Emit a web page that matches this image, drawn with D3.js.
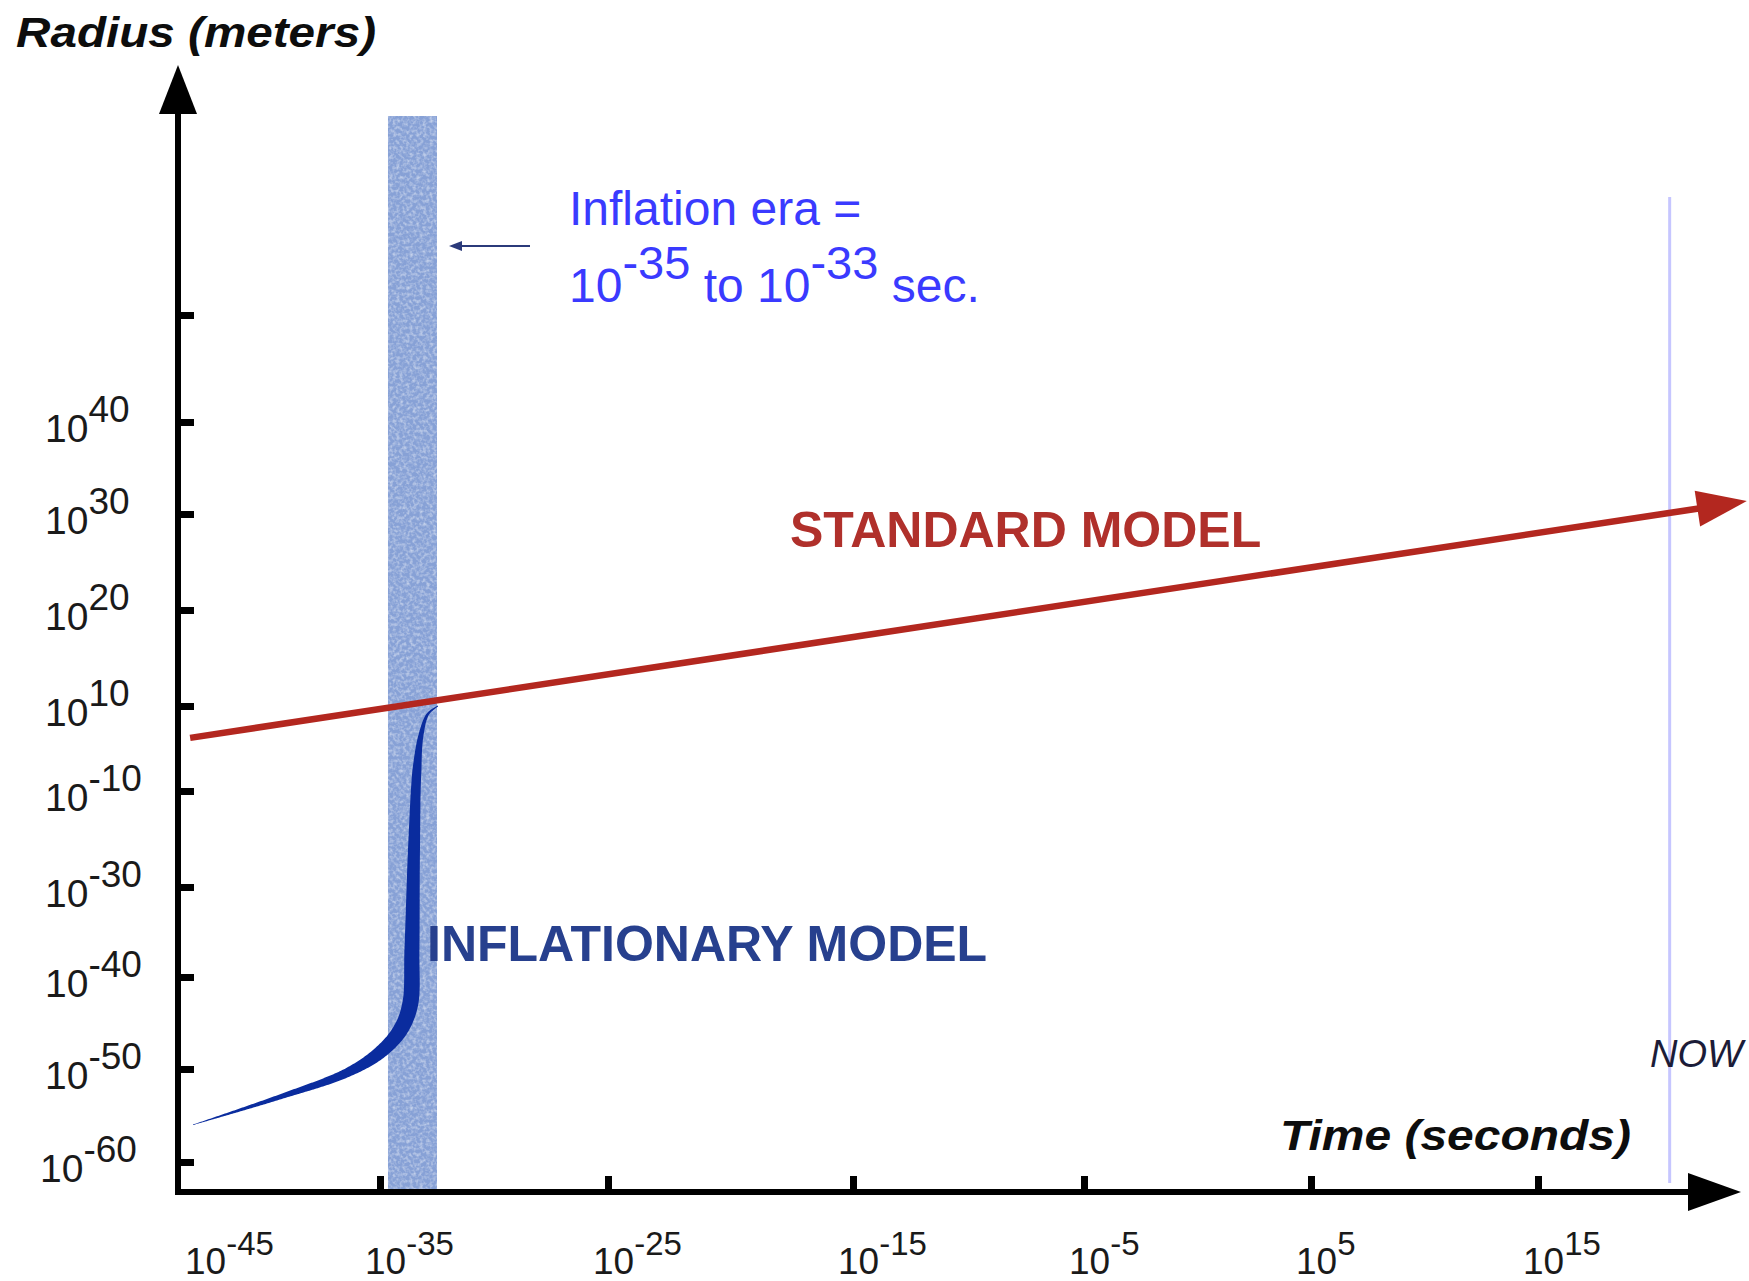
<!DOCTYPE html>
<html>
<head>
<meta charset="utf-8">
<script src="https://cdn.jsdelivr.net/npm/d3@7"></script>
<style>
  html, body { margin: 0; padding: 0; background: #ffffff; }
  svg { display: block; }
  text { font-family: "Liberation Sans", Arial, Helvetica, sans-serif; }
</style>
</head>
<body>
<svg id="chart" width="1749" height="1281"></svg>
<script>
// ---------------- DATA (exponents of ten) ----------------
const xTickExponents = [-45, -35, -25, -15, -5, 5, 15];          // time ticks, 10^n s
const yTickExponents = [-60, -50, -40, -30, -10, 10, 20, 30, 40]; // radius ticks, 10^n m (as labelled)
const yUnlabeledTicks = [50];
const inflationEra = [-34.65, -32.5];   // band, as drawn
const nowExponent = 20.8;               // "NOW" marker, as drawn
// Standard model: straight line (log time, log radius)
const standardT = [-44.4, 24.2];
const standardR = [2.5, 31.4];
// Inflationary model curve
const inflT = [-44.26, -39.95, -36.63, -35.0, -34.12, -33.68, -33.6, -33.51, -33.38, -33.2, -32.9, -32.46];
const inflR = [-56.0, -53.0, -50.4, -48.2, -45.8, -43.0, -37.0, -22.3, -5.1, 3.2, 8.1, 10.0];
// Texts
const yTitle = "Radius (meters)";
const xTitle = "Time (seconds)";
const nowLabel = "NOW";
const standardLabel = "STANDARD MODEL";
const inflLabel = "INFLATIONARY MODEL";
const eraLine1 = "Inflation era =";
const eraLine2 = [["10", false], ["-35", true], [" to 10", false], ["-33", true], [" sec.", false]];

// ---------------- LAYOUT ----------------
const svg = d3.select("#chart");
const x = d3.scaleLinear().domain(xTickExponents).range([178, 380, 608, 853, 1084, 1311, 1538]);
const yDomain = yTickExponents.concat(yUnlabeledTicks);
const y = d3.scaleLinear().domain(yDomain).range([1162, 1069, 977, 887, 791, 706, 610, 514, 422, 315]);

const axisX0 = x(-45), axisY0 = 1192;

// defs: texture filter for the band
const defs = svg.append("defs");
const f = defs.append("filter").attr("id", "noise")
  .attr("x", 0).attr("y", 0).attr("width", 1).attr("height", 1);
f.append("feTurbulence").attr("type", "fractalNoise").attr("baseFrequency", 0.3)
  .attr("numOctaves", 2).attr("seed", 7).attr("result", "t");
f.append("feColorMatrix").attr("in", "t").attr("type", "matrix")
  .attr("values", "0 0 0 0 1  0 0 0 0 1  0 0 0 0 1  1.1 0 0 0 -0.45");

// Inflation band
const bandTop = 116;
svg.append("rect")
  .attr("x", x(inflationEra[0])).attr("y", bandTop)
  .attr("width", x(inflationEra[1]) - x(inflationEra[0]))
  .attr("height", axisY0 - bandTop)
  .attr("fill", "#87a1d6");
svg.append("rect")
  .attr("x", x(inflationEra[0])).attr("y", bandTop)
  .attr("width", x(inflationEra[1]) - x(inflationEra[0]))
  .attr("height", axisY0 - bandTop)
  .attr("fill", "#fff").attr("filter", "url(#noise)");

// NOW line
svg.append("line")
  .attr("x1", x(nowExponent)).attr("x2", x(nowExponent))
  .attr("y1", 197).attr("y2", 1183)
  .attr("stroke", "#c6c6ff").attr("stroke-width", 3);

// Axes lines + arrowheads
svg.append("line").attr("x1", axisX0).attr("x2", axisX0).attr("y1", axisY0 + 3).attr("y2", 110)
  .attr("stroke", "#000").attr("stroke-width", 6);
svg.append("line").attr("x1", axisX0 - 3).attr("x2", 1692).attr("y1", axisY0).attr("y2", axisY0)
  .attr("stroke", "#000").attr("stroke-width", 6);
svg.append("path").attr("d", `M${axisX0},65 L${axisX0 + 19},114 L${axisX0 - 19},114 Z`).attr("fill", "#000");
svg.append("path").attr("d", `M1741,${axisY0} L1688,${axisY0 - 19} L1688,${axisY0 + 19} Z`).attr("fill", "#000");

// Ticks via d3 axes
const xAxis = d3.axisTop(x).tickValues(xTickExponents.slice(1)).tickSize(16).tickFormat("");
const gx = svg.append("g").attr("transform", `translate(0,${axisY0})`).call(xAxis);
gx.select(".domain").remove();
gx.selectAll(".tick line").attr("stroke", "#000").attr("stroke-width", 7);

const yAxis = d3.axisRight(y).tickValues(yDomain).tickSize(16).tickFormat("");
const gy = svg.append("g").attr("transform", `translate(${axisX0},0)`).call(yAxis);
gy.select(".domain").remove();
gy.selectAll(".tick line").attr("stroke", "#000").attr("stroke-width", 7);

// Y tick labels (10^n)
yTickExponents.forEach(e => {
  const t = svg.append("text")
    .attr("x", e === -60 ? 40 : 45).attr("y", y(e) + 20)
    .attr("font-size", 39).attr("fill", "#1a1a1a");
  t.append("tspan").text("10");
  t.append("tspan").attr("dy", -20).attr("font-size", 37).text(String(e));
});

// X tick labels
xTickExponents.forEach((e, i) => {
  const t = svg.append("text")
    .attr("x", i === 0 ? x(e) + 7 : x(e) - 15).attr("y", 1274)
    .attr("font-size", 37).attr("fill", "#1a1a1a");
  t.append("tspan").text("10");
  t.append("tspan").attr("dy", -19).attr("font-size", 33).text(String(e));
});

// Axis titles
svg.append("text").attr("x", 16).attr("y", 47)
  .attr("font-size", 43).attr("font-weight", "bold").attr("font-style", "italic")
  .attr("textLength", 360).attr("lengthAdjust", "spacingAndGlyphs")
  .attr("fill", "#0d0d0d").text(yTitle);
svg.append("text").attr("x", 1280).attr("y", 1150)
  .attr("font-size", 43).attr("font-weight", "bold").attr("font-style", "italic")
  .attr("textLength", 351).attr("lengthAdjust", "spacingAndGlyphs")
  .attr("fill", "#0d0d0d").text(xTitle);

// NOW label
svg.append("text").attr("x", 1650).attr("y", 1067)
  .attr("font-size", 38).attr("font-style", "italic").attr("fill", "#1c1c38").text(nowLabel);

// Standard model line with arrow
const p0 = [x(standardT[0]), y(standardR[0])];
const p1 = [x(standardT[1]), y(standardR[1])];
const dx = p1[0] - p0[0], dy = p1[1] - p0[1], L = Math.hypot(dx, dy);
const u = [dx / L, dy / L], nrm = [-u[1], u[0]];
const headLen = 50, headHalf = 18;
const base = [p1[0] - u[0] * headLen, p1[1] - u[1] * headLen];
svg.append("path")
  .attr("d", d3.line()([p0, [base[0] + u[0] * 3, base[1] + u[1] * 3]]))
  .attr("stroke", "#b3271f").attr("stroke-width", 6.5).attr("fill", "none");
svg.append("path")
  .attr("d", d3.line()([p1, [base[0] + nrm[0] * headHalf, base[1] + nrm[1] * headHalf],
                         [base[0] - nrm[0] * headHalf, base[1] - nrm[1] * headHalf]]) + "Z")
  .attr("fill", "#b3271f");

// Inflationary model: variable width ribbon
const ctrl = inflT.map((t, i) => [x(t), y(inflR[i])]);
const ribbonWidths = [0.5, 5, 9, 13, 15, 16, 15, 12, 9, 5, 2.5, 1];
const tmp = svg.append("path").attr("d", d3.line().curve(d3.curveCatmullRom.alpha(0.5))(ctrl))
  .attr("fill", "none").attr("stroke", "none");
const node = tmp.node();
const total = node.getTotalLength();
const cum = [0];
for (let i = 1; i < ctrl.length; i++) cum.push(cum[i - 1] + Math.hypot(ctrl[i][0] - ctrl[i - 1][0], ctrl[i][1] - ctrl[i - 1][1]));
const wScale = d3.scaleLinear().domain(cum.map(c => c / cum[cum.length - 1])).range(ribbonWidths);
const N = 400, samples = [];
for (let k = 0; k <= N; k++) {
  const p = node.getPointAtLength(total * k / N);
  samples.push([p.x, p.y]);
}
const left = [], right = [];
samples.forEach((p, k) => {
  const a = samples[Math.max(0, k - 1)], b = samples[Math.min(N, k + 1)];
  const ddx = b[0] - a[0], ddy = b[1] - a[1], l = Math.hypot(ddx, ddy) || 1;
  const nx = -ddy / l, ny = ddx / l;
  const w = wScale(k / N) / 2;
  left.push([p[0] + nx * w, p[1] + ny * w]);
  right.push([p[0] - nx * w, p[1] - ny * w]);
});
tmp.remove();
svg.append("path").attr("d", d3.line()(left.concat(right.reverse())) + "Z")
  .attr("fill", "#0a2c9e");

// Labels
svg.append("text").attr("x", 790).attr("y", 547)
  .attr("font-size", 50).attr("font-weight", "bold").attr("fill", "#b0302b").text(standardLabel);
svg.append("text").attr("x", 427).attr("y", 961)
  .attr("font-size", 50).attr("font-weight", "bold").attr("fill", "#27408e").text(inflLabel);

// Inflation era annotation
svg.append("text").attr("x", 569).attr("y", 225)
  .attr("font-size", 48).attr("fill", "#3a3aff").text(eraLine1);
const t2 = svg.append("text").attr("x", 569).attr("y", 302)
  .attr("font-size", 48).attr("fill", "#3a3aff");
eraLine2.forEach(([s, sup], i) => {
  const prevSup = i > 0 && eraLine2[i - 1][1];
  const sp = t2.append("tspan").text(s);
  if (sup) sp.attr("dy", -23).attr("font-size", 47);
  else if (prevSup) sp.attr("dy", 23);
});

// small arrow pointing at band
svg.append("line").attr("x1", 530).attr("x2", 458).attr("y1", 246).attr("y2", 246)
  .attr("stroke", "#2b3a7a").attr("stroke-width", 2.2);
svg.append("path").attr("d", "M449,246 L462,241 L462,251 Z").attr("fill", "#2b3a7a");
</script>
</body>
</html>
